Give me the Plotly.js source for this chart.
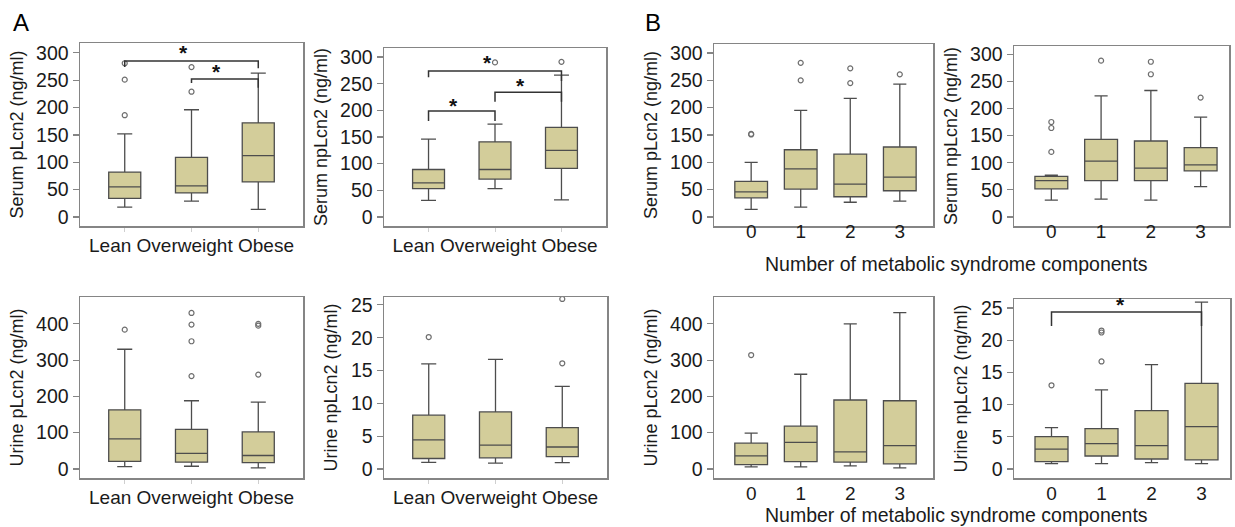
<!DOCTYPE html>
<html><head><meta charset="utf-8">
<script src="https://cdn.plot.ly/plotly-3.0.1.min.js"></script>
<style>html,body{margin:0;padding:0;background:#fff}#c{width:1235px;height:527px}</style>
</head><body><div id="c"></div>
<script>
// ---------- categories ----------
const bmiCats = ["Lean", "Overweight", "Obese"];
const msCats = ["0", "1", "2", "3"];

// ---------- A: Serum pLcn2 ----------
const aSerP_low = [18, 29, 14];
const aSerP_q1  = [34, 44, 64];
const aSerP_med = [55, 57, 112];
const aSerP_q3  = [82, 109, 172];
const aSerP_up  = [152, 196, 263];
const aSerP_outCat = ["Lean", "Lean", "Lean", "Overweight", "Overweight"];
const aSerP_outVal = [186, 251, 281, 229, 274];

// ---------- A: Serum npLcn2 ----------
const aSerNp_low = [31, 53, 32];
const aSerNp_q1  = [53, 71, 91];
const aSerNp_med = [64, 89, 125];
const aSerNp_q3  = [89, 141, 168];
const aSerNp_up  = [146, 174, 266];
const aSerNp_outCat = ["Overweight", "Obese"];
const aSerNp_outVal = [290, 291];

// ---------- B: Serum pLcn2 ----------
const bSerP_low = [14, 18, 27, 29];
const bSerP_q1  = [35, 51, 37, 48];
const bSerP_med = [46, 88, 60, 73];
const bSerP_q3  = [65, 123, 115, 128];
const bSerP_up  = [100, 195, 217, 243];
const bSerP_outCat = ["0", "0", "1", "1", "2", "2", "3"];
const bSerP_outVal = [152, 151, 250, 282, 245, 272, 261];

// ---------- B: Serum npLcn2 ----------
const bSerNp_low = [31, 33, 31, 56];
const bSerNp_q1  = [52, 67, 67, 85];
const bSerNp_med = [67, 103, 90, 96];
const bSerNp_q3  = [75, 143, 140, 128];
const bSerNp_up  = [77, 223, 233, 184];
const bSerNp_outCat = ["0", "0", "0", "1", "2", "2", "3"];
const bSerNp_outVal = [120, 164, 175, 288, 263, 286, 220];

// ---------- A: Urine pLcn2 ----------
const aUriP_low = [6.5, 7.4, 2.8];
const aUriP_q1  = [21, 18.5, 17.5];
const aUriP_med = [83, 43, 37];
const aUriP_q3  = [163, 109, 102];
const aUriP_up  = [330, 188, 184];
const aUriP_outCat = ["Lean", "Overweight", "Overweight", "Overweight", "Overweight", "Obese", "Obese", "Obese"];
const aUriP_outVal = [384, 256, 352, 398, 430, 260, 395, 400];

// ---------- A: Urine npLcn2 ----------
const aUriNp_low = [1.0, 0.9, 0.96];
const aUriNp_q1  = [1.6, 1.7, 1.9];
const aUriNp_med = [4.45, 3.65, 3.35];
const aUriNp_q3  = [8.2, 8.7, 6.3];
const aUriNp_up  = [16.0, 16.7, 12.6];
const aUriNp_outCat = ["Lean", "Obese", "Obese"];
const aUriNp_outVal = [20.1, 16.1, 25.9];

// ---------- B: Urine pLcn2 ----------
const bUriP_low = [5.5, 5.5, 8.3, 2.8];
const bUriP_q1  = [12, 20, 19, 14];
const bUriP_med = [36, 73, 47, 64.5];
const bUriP_q3  = [71, 118, 190, 188];
const bUriP_up  = [98.6, 261, 400, 431];
const bUriP_outCat = ["0"];
const bUriP_outVal = [314];

// ---------- B: Urine npLcn2 ----------
const bUriNp_low = [0.83, 0.83, 0.98, 0.83];
const bUriNp_q1  = [1.14, 2.02, 1.55, 1.4];
const bUriNp_med = [3.1, 3.93, 3.62, 6.57];
const bUriNp_q3  = [5.02, 6.26, 9.06, 13.3];
const bUriNp_up  = [6.42, 12.3, 16.2, 25.9];
const bUriNp_outCat = ["0", "1", "1", "1"];
const bUriNp_outVal = [13.0, 16.7, 21.2, 21.5];

// ---------- significance brackets: [from, to, barY, leftLegEnd, rightLegEnd, starY] ----------
const brA1 = [[0, 2, 285, 274, 272, 300], [1, 2, 252, 245, 236, 265]];
const brA2 = [[0, 2, 274, 262, 255, 289], [0, 1, 199, 180, 180, 210], [1, 2, 234, 216, 216, 247]];
const brB4 = [[0, 3, 24.4, 22.2, 22.2, 25.6]];

// ---------- titles ----------
const yTitles = ["Serum pLcn2 (ng/ml)", "Serum npLcn2 (ng/ml)", "Serum pLcn2 (ng/ml)", "Serum npLcn2 (ng/ml)",
                 "Urine pLcn2 (ng/ml)", "Urine npLcn2 (ng/ml)", "Urine pLcn2 (ng/ml)", "Urine npLcn2 (ng/ml)"];
const msTitle = "Number of metabolic syndrome components";
const panelLetters = ["A", "B"];

// ---------- build ----------
const W = 1235, H = 527;
const FONT = "Liberation Sans, Arial, sans-serif";
const FILL = "#d3cd9a", EDGE = "#4d4d4d";
const TXT = "#1a1a1a";

const panels = [
  {cats: bmiCats, low: aSerP_low, q1: aSerP_q1, med: aSerP_med, q3: aSerP_q3, up: aSerP_up, oc: aSerP_outCat, ov: aSerP_outVal,
   px: [80, 303], py: [43, 226], yr: [-16.5, 318], dt: 50, br: brA1},
  {cats: bmiCats, low: aSerNp_low, q1: aSerNp_q1, med: aSerNp_med, q3: aSerNp_q3, up: aSerNp_up, oc: aSerNp_outCat, ov: aSerNp_outVal,
   px: [384, 606], py: [48, 226], yr: [-17, 317], dt: 50, br: brA2},
  {cats: msCats, low: bSerP_low, q1: bSerP_q1, med: bSerP_med, q3: bSerP_q3, up: bSerP_up, oc: bSerP_outCat, ov: bSerP_outVal,
   px: [714, 933], py: [44, 226], yr: [-16.5, 316.5], dt: 50, br: []},
  {cats: msCats, low: bSerNp_low, q1: bSerNp_q1, med: bSerNp_med, q3: bSerNp_q3, up: bSerNp_up, oc: bSerNp_outCat, ov: bSerNp_outVal,
   px: [1014, 1229], py: [46, 226], yr: [-16.5, 315], dt: 50, br: []},
  {cats: bmiCats, low: aUriP_low, q1: aUriP_q1, med: aUriP_med, q3: aUriP_q3, up: aUriP_up, oc: aUriP_outCat, ov: aUriP_outVal,
   px: [80, 303], py: [297, 478], yr: [-25, 474], dt: 100, br: []},
  {cats: bmiCats, low: aUriNp_low, q1: aUriNp_q1, med: aUriNp_med, q3: aUriNp_q3, up: aUriNp_up, oc: aUriNp_outCat, ov: aUriNp_outVal,
   px: [384, 607], py: [297, 478], yr: [-1.37, 26.2], dt: 5, br: []},
  {cats: msCats, low: bUriP_low, q1: bUriP_q1, med: bUriP_med, q3: bUriP_q3, up: bUriP_up, oc: bUriP_outCat, ov: bUriP_outVal,
   px: [714, 933], py: [297, 478], yr: [-25, 474], dt: 100, br: []},
  {cats: msCats, low: bUriNp_low, q1: bUriNp_q1, med: bUriNp_med, q3: bUriNp_q3, up: bUriNp_up, oc: bUriNp_outCat, ov: bUriNp_outVal,
   px: [1014, 1230], py: [299, 478], yr: [-1.4, 26.4], dt: 5, br: brB4}
];

const traces = [];
const layout = {
  width: W, height: H, margin: {l: 0, r: 0, t: 0, b: 0},
  paper_bgcolor: "#fff", plot_bgcolor: "#fff", showlegend: false,
  font: {family: FONT, size: 19, color: TXT},
  shapes: [], annotations: []
};

panels.forEach((p, i) => {
  const n = i + 1;
  const xa = "x" + (n === 1 ? "" : n), ya = "y" + (n === 1 ? "" : n);
  const xk = "xaxis" + (n === 1 ? "" : n), yk = "yaxis" + (n === 1 ? "" : n);
  const isA = p.cats === bmiCats;
  const top = n <= 4;
  const nc = p.cats.length;
  traces.push({
    type: "box", xaxis: xa, yaxis: ya, x: p.cats,
    q1: p.q1, median: p.med, q3: p.q3, lowerfence: p.low, upperfence: p.up,
    boxpoints: false, width: isA ? 0.48 : 0.66, whiskerwidth: isA ? 0.47 : 0.4,
    fillcolor: FILL, line: {color: EDGE, width: 1.3}, hoverinfo: "skip"
  });
  traces.push({
    type: "scatter", mode: "markers", xaxis: xa, yaxis: ya, x: p.oc, y: p.ov,
    marker: {symbol: "circle-open", size: 5, color: "#6e6e6e", line: {width: 1.2, color: "#6e6e6e"}},
    hoverinfo: "skip"
  });
  const xr = isA ? [-0.67, nc - 1 + 0.67] : [-0.75, nc - 1 + (n === 4 || n === 8 ? 0.57 : 0.67)];
  layout[xk] = {
    domain: [p.px[0] / W, p.px[1] / W], anchor: ya, type: "category", categoryarray: p.cats,
    range: xr, showline: true, mirror: true, linecolor: "#858585", linewidth: 1.5,
    showgrid: false, zeroline: false, fixedrange: true,
    ticks: "outside", ticklen: isA ? 4 : 0, tickcolor: "#cfcfcf",
    ticklabelstandoff: top ? -12 : -2,
    showticklabels: !isA, tickfont: {size: 19, family: FONT, color: TXT},
    title: isA ? {text: p.cats.join(" "), font: {size: 19, family: FONT, color: TXT}, standoff: 8} : {text: ""}
  };
  layout[yk] = {
    domain: [1 - p.py[1] / H, 1 - p.py[0] / H], anchor: xa, range: p.yr, dtick: p.dt, tick0: 0,
    showline: true, mirror: true, linecolor: "#858585", linewidth: 1.5,
    showgrid: false, zeroline: false, fixedrange: true,
    ticks: "outside", ticklen: 6, tickcolor: "#858585", tickwidth: 1.2,
    tickfont: {size: 19.5, family: FONT, color: TXT},
    title: {text: yTitles[i], font: {size: 18, family: FONT, color: TXT}, standoff: 8}
  };
  p.br.forEach(b => {
    const [f, t, yb, yl, yr2, ys] = b;
    layout.shapes.push({type: "path", xref: xa, yref: ya,
      path: `M ${f} ${yl} L ${f} ${yb} L ${t} ${yb} L ${t} ${yr2}`,
      line: {color: "#333", width: 1.5}});
    layout.annotations.push({xref: xa, yref: ya, x: (f + t) / 2 - 0.12, y: ys, text: "<b>*</b>",
      showarrow: false, font: {size: 21, family: FONT, color: "#111"}, yanchor: "middle"});
  });
});

// shared B x-axis titles
layout.annotations.push({xref: "paper", yref: "paper", x: 956 / W, y: 1 - 264 / H, text: msTitle,
  showarrow: false, font: {size: 19.5, family: FONT, color: TXT}, xanchor: "center", yanchor: "middle"});
layout.annotations.push({xref: "paper", yref: "paper", x: 956 / W, y: 1 - 515 / H, text: msTitle,
  showarrow: false, font: {size: 19.5, family: FONT, color: TXT}, xanchor: "center", yanchor: "middle"});
// panel letters
layout.annotations.push({xref: "paper", yref: "paper", x: 21 / W, y: 1 - 22 / H, text: panelLetters[0],
  showarrow: false, font: {size: 24, family: FONT, color: "#000"}, xanchor: "center", yanchor: "middle"});
layout.annotations.push({xref: "paper", yref: "paper", x: 653 / W, y: 1 - 22 / H, text: panelLetters[1],
  showarrow: false, font: {size: 24, family: FONT, color: "#000"}, xanchor: "center", yanchor: "middle"});

Plotly.newPlot("c", traces, layout, {staticPlot: true, displayModeBar: false});
</script></body></html>
